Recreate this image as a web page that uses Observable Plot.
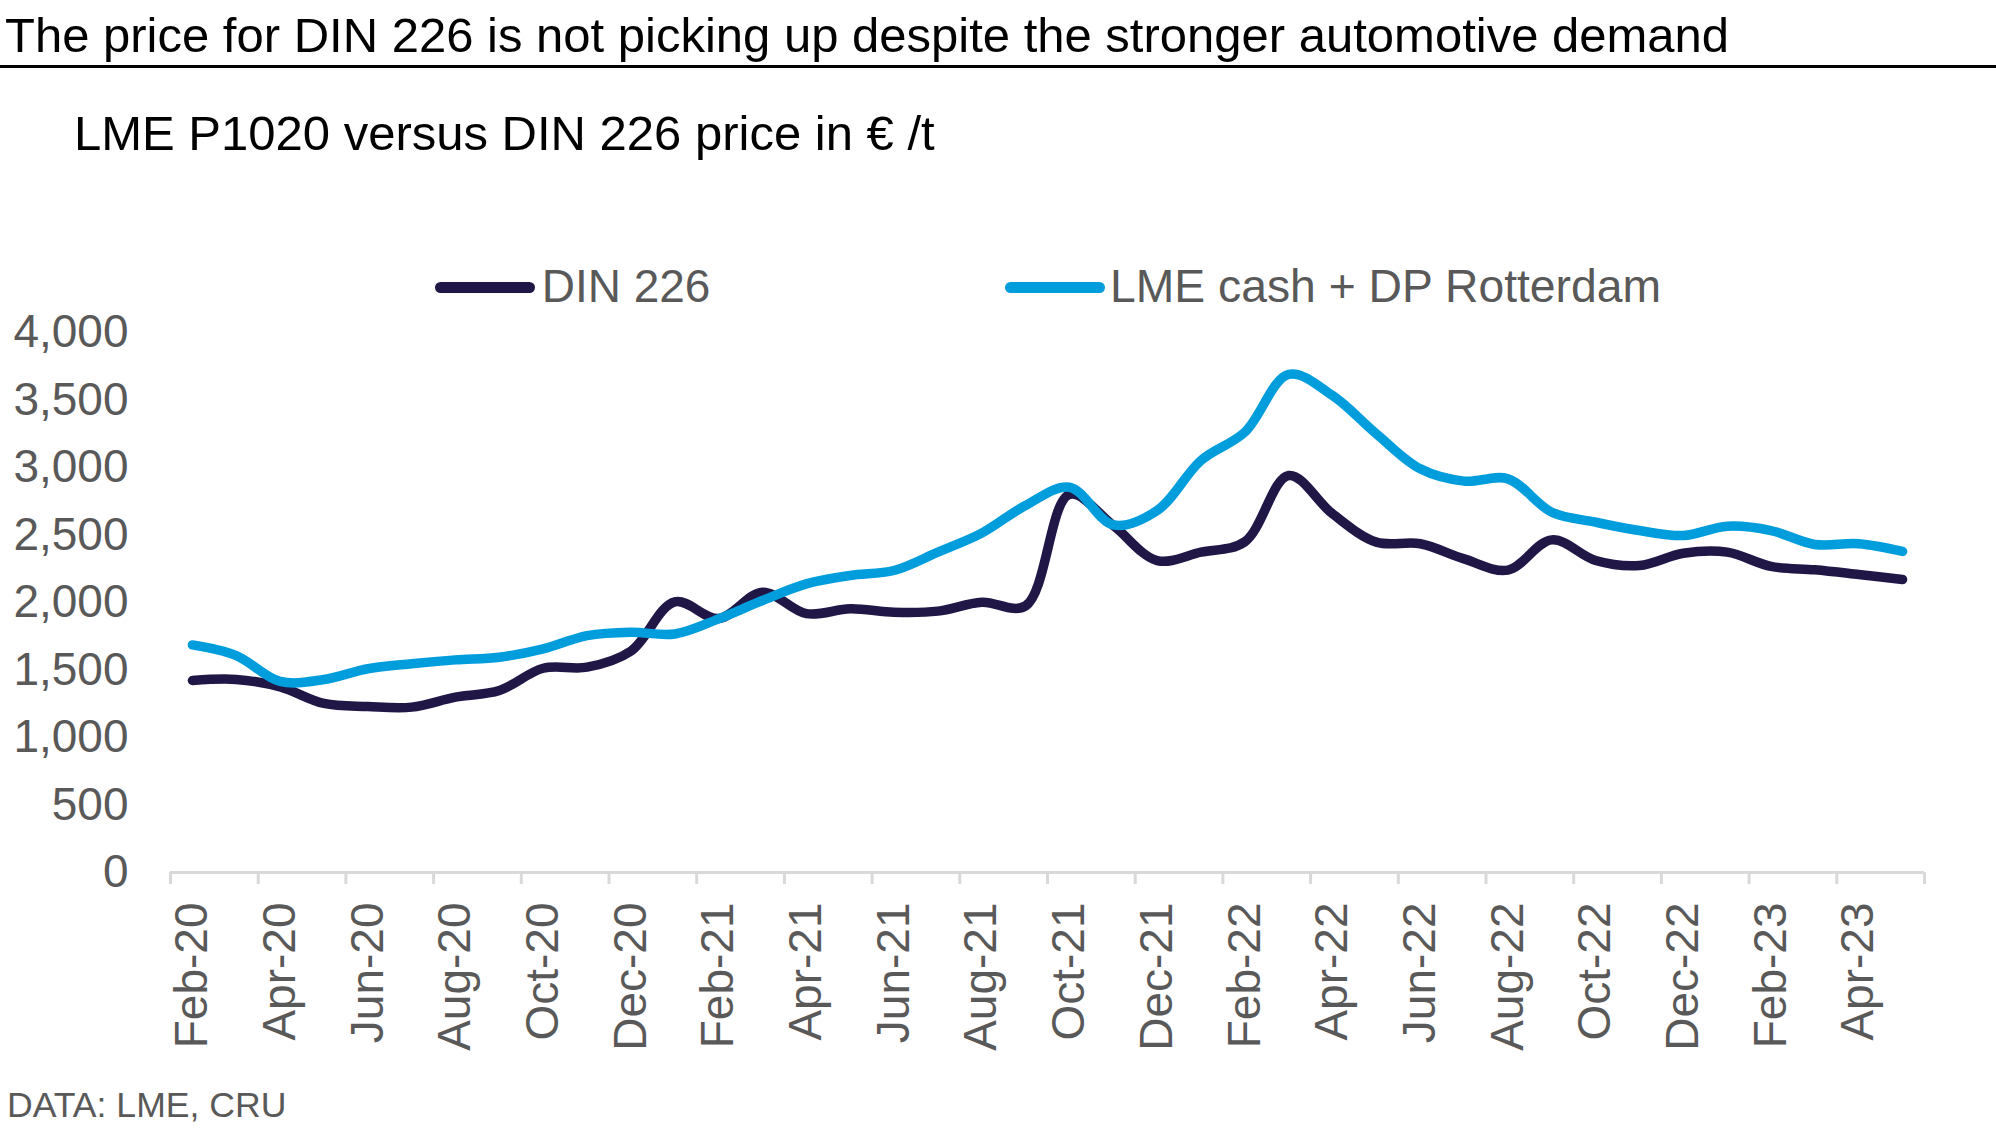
<!DOCTYPE html>
<html><head><meta charset="utf-8">
<script src="https://cdn.jsdelivr.net/npm/d3@7"></script>
<script src="https://cdn.jsdelivr.net/npm/@observablehq/plot@0.6"></script>
<style>
html,body{margin:0;padding:0;background:#fff;}
body{width:1996px;height:1138px;position:relative;overflow:hidden;font-family:"Liberation Sans",Arial,sans-serif;}
.t{position:absolute;white-space:nowrap;}
.sw{position:absolute;height:11px;width:100px;border-radius:5.5px;}
#legend{position:absolute;left:0;top:0;z-index:2;}
</style></head><body>
<div class="t" style="left:5px;top:10.5px;font-size:49px;line-height:49px;color:#000;">The price for DIN 226 is not picking up despite the stronger automotive demand</div>
<div style="position:absolute;left:0;top:65px;width:1996px;height:3px;background:#000;"></div>
<div class="t" style="left:74px;top:108.5px;font-size:49px;line-height:49px;color:#000;">LME P1020 versus DIN 226 price in € /t</div>
<div id="chart" style="position:absolute;left:0;top:300px;z-index:1;"></div>
<div id="legend"></div>
<div class="t" style="left:7px;top:1088px;font-size:35.6px;line-height:35.6px;color:#595959;">DATA: LME, CRU</div>
<script>
const months = ["Feb-20","Mar-20","Apr-20","May-20","Jun-20","Jul-20","Aug-20","Sep-20","Oct-20","Nov-20","Dec-20","Jan-21",
  "Feb-21","Mar-21","Apr-21","May-21","Jun-21","Jul-21","Aug-21","Sep-21","Oct-21","Nov-21","Dec-21","Jan-22",
  "Feb-22","Mar-22","Apr-22","May-22","Jun-22","Jul-22","Aug-22","Sep-22","Oct-22","Nov-22","Dec-22","Jan-23",
  "Feb-23","Mar-23","Apr-23","May-23"];
const din226 = [1422,1430,1375,1252,1230,1225,1299,1348,1513,1521,1640,2005,1881,2076,1918,1953,1928,1936,2002,1975,
  2800,2570,2311,2373,2450,2941,2657,2447,2435,2323,2240,2464,2311,2274,2365,2373,2267,2242,2207,2170];
const lmeCash = [1686,1607,1415,1430,1509,1546,1575,1595,1657,1755,1780,1767,1879,2015,2138,2200,2237,2373,2514,2719,
  2854,2575,2681,3052,3262,3690,3533,3249,2990,2899,2916,2669,2595,2533,2496,2565,2533,2430,2435,2378];
const yTicks = [0,500,1000,1500,2000,2500,3000,3500,4000];
const seriesNames = ["DIN 226","LME cash + DP Rotterdam"];
const seriesColors = ["#211747","#009ddc"];

// legend
const legendPos = [{sw:435, tx:541.7, fs:46},{sw:1005, tx:1110, fs:46.3}];
const leg = document.getElementById("legend");
seriesNames.forEach((name, k) => {
  const s = document.createElement("div");
  s.className = "sw";
  s.style.left = legendPos[k].sw + "px";
  s.style.top = "281.8px";
  s.style.background = seriesColors[k];
  leg.appendChild(s);
  const t = document.createElement("div");
  t.className = "t";
  t.style.left = legendPos[k].tx + "px";
  t.style.top = "262.8px";
  t.style.fontSize = legendPos[k].fs + "px";
  t.style.lineHeight = "46px";
  t.style.color = "#595959";
  t.textContent = name;
  leg.appendChild(t);
});

const idx = months.map((_, i) => i);
const labelIdx = idx.filter(i => i % 2 === 0);
const bounds = labelIdx.map(i => i - 0.5).concat([months.length - 0.5]);
const fmt = d3.format(",");

const chart = Plot.plot({
  width: 1996, height: 780,
  marginLeft: 170, marginRight: 72, marginTop: 32, marginBottom: 208,
  x: {type: "linear", domain: [-0.5, months.length - 0.5], axis: null},
  y: {domain: [0, 4000], axis: null},
  style: {fontFamily: '"Liberation Sans", Arial, sans-serif', background: "transparent", overflow: "visible"},
  marks: [
    Plot.ruleY([0], {stroke: "#d9d9d9", strokeWidth: 3}),
    Plot.ruleX(bounds, {x: d => d, y1: () => 0, y2: () => 0, insetBottom: -12, stroke: "#d9d9d9", strokeWidth: 3}),
    Plot.text(yTicks, {y: d => d, frameAnchor: "left", dx: -42, textAnchor: "end", text: d => fmt(d), fontSize: 46, fill: "#595959"}),
    Plot.text(labelIdx, {x: d => d, y: () => 0, dy: 30, rotate: -90, textAnchor: "end", text: d => months[d], fontSize: 46, fill: "#595959"}),
    Plot.line(idx, {x: d => d, y: d => din226[d], curve: "catmull-rom", stroke: seriesColors[0], strokeWidth: 9.5, strokeLinecap: "round", strokeLinejoin: "round"}),
    Plot.line(idx, {x: d => d, y: d => lmeCash[d], curve: "catmull-rom", stroke: seriesColors[1], strokeWidth: 9.5, strokeLinecap: "round", strokeLinejoin: "round"})
  ]
});
document.getElementById("chart").appendChild(chart);
</script>
</body></html>
